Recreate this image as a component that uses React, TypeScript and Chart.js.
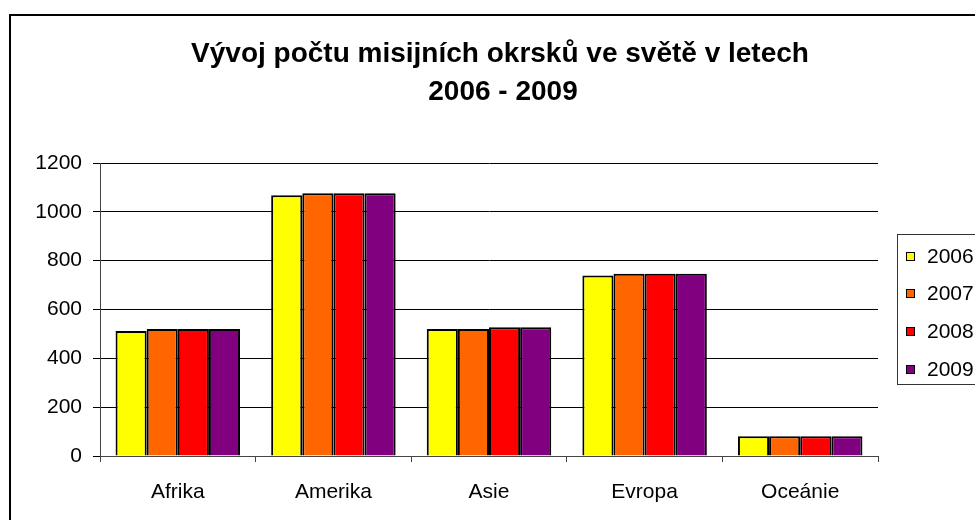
import React, { useEffect, useRef } from "react";
import { Chart, registerables } from "chart.js";

Chart.register(...registerables);

const titleLines = ["Vývoj počtu misijních okrsků ve světě v letech", "2006 - 2009"];
const categories = ["Afrika", "Amerika", "Asie", "Evropa", "Oceánie"];
const seriesNames = ["2006", "2007", "2008", "2009"];
const values2006 = [512, 1068, 520, 739, 81];
const values2007 = [520, 1076, 520, 746, 81];
const values2008 = [520, 1076, 527, 746, 81];
const values2009 = [520, 1076, 527, 746, 81];
const seriesColors = ["#FFFF00", "#FF6600", "#FF0000", "#800080"];
const yMin = 0;
const yMax = 1200;
const yStep = 200;

const FONT = "'Liberation Sans', Arial, sans-serif";

const decorPlugin = {
  id: "decor",
  afterDraw(chart: any) {
    const ctx = chart.ctx as CanvasRenderingContext2D;
    ctx.save();
    // outer border
    ctx.strokeStyle = "#000";
    ctx.lineWidth = 2;
    ctx.strokeRect(10, 15, 1000, 600);
    // title
    ctx.fillStyle = "#000";
    ctx.font = `bold 28px ${FONT}`;
    ctx.textAlign = "center";
    ctx.textBaseline = "alphabetic";
    ctx.fillText(titleLines[0], 500, 62);
    ctx.fillText(titleLines[1], 503, 100);
    // legend
    ctx.lineWidth = 1;
    ctx.strokeStyle = "#333";
    ctx.strokeRect(897.5, 234.5, 200, 150);
    ctx.font = `21px ${FONT}`;
    ctx.textAlign = "left";
    ctx.textBaseline = "middle";
    chart.data.datasets.forEach((ds: any, i: number) => {
      const cy = 256 + i * 37.7;
      ctx.fillStyle = ds.backgroundColor;
      ctx.fillRect(906, Math.round(cy - 4.5), 9, 9);
      ctx.strokeStyle = "#000";
      ctx.strokeRect(906.5, Math.round(cy - 4.5) + 0.5, 8, 8);
      ctx.fillStyle = "#000";
      ctx.fillText(ds.label, 927, cy + 1);
    });
    ctx.restore();
  },
};

export default function App() {
  const ref = useRef<HTMLCanvasElement | null>(null);
  useEffect(() => {
    document.body.style.margin = "0";
    document.body.style.overflow = "hidden";
    const allValues = [values2006, values2007, values2008, values2009];
    const chart = new Chart(ref.current as HTMLCanvasElement, {
      type: "bar",
      data: {
        labels: categories,
        datasets: seriesNames.map((name, i) => ({
          label: name,
          data: allValues[i],
          backgroundColor: seriesColors[i],
          borderColor: "#000",
          borderWidth: 2,
          categoryPercentage: 0.8,
          barPercentage: 1.0,
        })),
      },
      options: {
        animation: false,
        responsive: false,
        maintainAspectRatio: false,
        layout: { padding: { left: 10, right: 97, top: 163, bottom: 0 } },
        plugins: {
          legend: { display: false },
          title: { display: false },
          tooltip: { enabled: false },
        },
        scales: {
          x: {
            offset: true,
            grid: {
              offset: true,
              drawOnChartArea: false,
              color: "#444",
              tickLength: 6,
            },
            border: { color: "#444", width: 1 },
            ticks: { color: "#000", font: { family: FONT, size: 21 }, padding: 18 },
            afterFit: (s: any) => {
              s.height = 64;
            },
          },
          y: {
            min: yMin,
            max: yMax,
            ticks: {
              stepSize: yStep,
              color: "#000",
              font: { family: FONT, size: 21 },
              padding: 11,
              callback: (v: any) => String(v),
            },
            grid: { color: "#000", lineWidth: 1, tickLength: 7 },
            border: { color: "#444", width: 1 },
            afterFit: (s: any) => {
              s.width = 90;
            },
          },
        },
      },
      plugins: [decorPlugin],
    } as any);
    return () => chart.destroy();
  }, []);
  return <canvas ref={ref} width={975} height={520} style={{ display: "block" }} />;
}
